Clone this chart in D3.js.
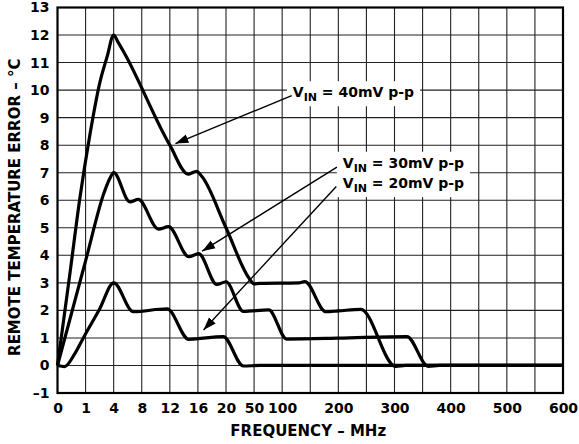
<!DOCTYPE html>
<html>
<head>
<meta charset="utf-8">
<script src="https://cdn.jsdelivr.net/npm/d3@7"></script>
<style>
  html, body { margin: 0; padding: 0; background: #fff; }
  svg { display: block; }
  text { font-family: "DejaVu Sans", "Liberation Sans", Arial, sans-serif; font-weight: bold; fill: #000; }
  .tick text { font-size: 14px; }
  .title { font-size: 15px; }
  .note { font-size: 14px; }
</style>
</head>
<body>
<div id="chart"></div>
<script>
// the frequency axis is piecewise: every grid column is one step, whatever its MHz span
const freqGrid = [0, 1, 4, 8, 12, 16, 20, 50, 100, 150, 200, 250, 300, 350, 400, 450, 500, 550, 600]
const freqTicks = [0, 1, 4, 8, 12, 16, 20, 50, 100, 200, 300, 400, 500, 600]
const errTicks = [-1, 0, 1, 2, 3, 4, 5, 6, 7, 8, 9, 10, 11, 12, 13]

// [frequency MHz, remote temperature error °C]
const vin40 = [
  [0, 0], [0.45, 3.4], [0.8, 6.1], [1.47, 8.4], [2.54, 10.3], [3.29, 11.2], [4, 12],
  [4.6, 11.75], [5.4, 11.4], [12, 8], [14.6, 6.95], [15.8, 7.05], [16.6, 6.85], [20, 5],
  [45, 3.15], [50, 2.96], [60, 2.98], [130, 3], [140, 3.05], [178, 1.95], [200, 1.98],
  [240, 2.04], [302, -0.03], [320, 0], [600, 0]
]
const vin30 = [
  [0, 0], [1, 3.8], [3, 6.3], [3.6, 6.8], [4, 7],
  [6.3, 5.94], [7.5, 6.03], [10.4, 4.95], [11.8, 5.04], [14.7, 3.95], [16.1, 4.06],
  [18.7, 2.94], [20, 3.04], [38.6, 1.96], [76, 2.02], [108, 0.96], [200, 0.99],
  [322, 1.05], [360, -0.03], [380, 0], [600, 0]
]
const vin20 = [
  [0, 0], [0.25, -0.04], [0.6, 0.4], [0.92, 1], [2.5, 2.05], [4, 3],
  [6.8, 1.95], [11.6, 2.06], [14.7, 0.95], [19.6, 1.05], [38.6, -0.02], [60, 0], [600, 0]
]

// callouts: label text, text start / arrow start / arrow tip in data units, box group
const noteLabels = ['40mV p-p', '30mV p-p', '20mV p-p']
const noteText = [[119, 9.74], [208, 7.18], [208, 6.44]]
const noteFrom = [[117, 9.8], [197.5, 7.2], [196.4, 6.5]]
const noteTip = [[12.8, 8.06], [16.6, 4.15], [16.8, 1.29]]
const noteBox = [0, 1, 1]

const width = 579, height = 444
const margin = { top: 7.5, right: 16, bottom: 51, left: 57.5 }
const innerW = width - margin.left - margin.right
const innerH = height - margin.top - margin.bottom

const svg = d3.select('#chart').append('svg')
  .attr('width', width)
  .attr('height', height)

const g = svg.append('g').attr('transform', `translate(${margin.left},${margin.top})`)

const step = innerW / (freqGrid.length - 1)
const x = d3.scaleLinear().domain(freqGrid).range(freqGrid.map((d, i) => i * step))
const y = d3.scaleLinear().domain([-1, 13]).range([innerH, 0])

// Grid
g.append('g').selectAll('line')
  .data(freqGrid.slice(1, -1))
  .join('line')
  .attr('x1', d => x(d)).attr('x2', d => x(d))
  .attr('y1', 0).attr('y2', innerH)
  .attr('stroke', '#222').attr('stroke-width', 1.1)

g.append('g').selectAll('line')
  .data(errTicks.slice(1, -1))
  .join('line')
  .attr('x1', 0).attr('x2', innerW)
  .attr('y1', d => y(d)).attr('y2', d => y(d))
  .attr('stroke', '#222').attr('stroke-width', 1.1)

// Axes (labels only, the frame is drawn separately)
g.append('g')
  .attr('transform', `translate(0,${innerH})`)
  .call(d3.axisBottom(x).tickValues(freqTicks).tickSize(0).tickPadding(10).tickFormat(d => d))
  .call(a => a.select('.domain').remove())

g.append('g')
  .call(d3.axisLeft(y).tickValues(errTicks).tickSize(0).tickPadding(8)
    .tickFormat(d => d < 0 ? '\u2013' + Math.abs(d) : d))
  .call(a => a.select('.domain').remove())

g.append('rect')
  .attr('width', innerW).attr('height', innerH)
  .attr('fill', 'none').attr('stroke', '#000').attr('stroke-width', 2.2)

// Titles
svg.append('text')
  .attr('class', 'title')
  .attr('text-anchor', 'middle')
  .attr('x', margin.left + innerW / 2 - 2)
  .attr('y', 436)
  .text('FREQUENCY \u2013 MHz')

svg.append('text')
  .attr('class', 'title')
  .attr('text-anchor', 'middle')
  .attr('transform', `translate(20,${margin.top + innerH / 2 + 7}) rotate(-90)`)
  .text('REMOTE TEMPERATURE ERROR \u2013 \u00b0C')

// Curves
const line = d3.line()
  .x(d => x(d[0]))
  .y(d => y(d[1]))
  .curve(d3.curveMonotoneX)

g.append('g').selectAll('path')
  .data([vin40, vin30, vin20])
  .join('path')
  .attr('d', line)
  .attr('fill', 'none')
  .attr('stroke', '#000')
  .attr('stroke-width', 3.2)
  .attr('stroke-linejoin', 'round')

// Callouts
svg.append('defs')
  .append('marker')
  .attr('id', 'arrowhead')
  .attr('viewBox', '0 -5 14 10')
  .attr('refX', 13)
  .attr('refY', 0)
  .attr('markerUnits', 'userSpaceOnUse')
  .attr('markerWidth', 14)
  .attr('markerHeight', 10)
  .attr('orient', 'auto')
  .append('path')
  .attr('d', 'M0,-4.5L13,0L0,4.5Z')
  .attr('fill', '#000')

const boxLayer = g.append('g')
const noteLayer = g.append('g')

const texts = noteLabels.map((label, i) => {
  const t = noteLayer.append('text')
    .attr('class', 'note')
    .attr('x', x(noteText[i][0]))
    .attr('y', y(noteText[i][1]))
  t.append('tspan').text('V')
  t.append('tspan').attr('dy', 4).style('font-size', '11px').text('IN')
  t.append('tspan').attr('dy', -4).text(' = ' + label)
  return t
})

// white boxes behind the labels, cut out of the grid
d3.groups(texts.map((t, i) => ({ t, box: noteBox[i] })), d => d.box).forEach(([, items]) => {
  const boxes = items.map(d => d.t.node().getBBox())
  const x0 = d3.min(boxes, b => b.x) - 6
  const x1 = d3.max(boxes, b => b.x + b.width) + 6
  const y0 = d3.min(boxes, b => b.y) - 3
  const y1 = d3.max(boxes, b => b.y + b.height) + 2
  boxLayer.append('rect')
    .attr('x', x0).attr('y', y0)
    .attr('width', x1 - x0).attr('height', y1 - y0)
    .attr('fill', '#fff')
})

noteLayer.selectAll('line')
  .data(noteLabels.map((d, i) => i))
  .join('line')
  .attr('x1', i => x(noteFrom[i][0]))
  .attr('y1', i => y(noteFrom[i][1]))
  .attr('x2', i => x(noteTip[i][0]))
  .attr('y2', i => y(noteTip[i][1]))
  .attr('stroke', '#000')
  .attr('stroke-width', 1.4)
  .attr('marker-end', 'url(#arrowhead)')
</script>
</body>
</html>
